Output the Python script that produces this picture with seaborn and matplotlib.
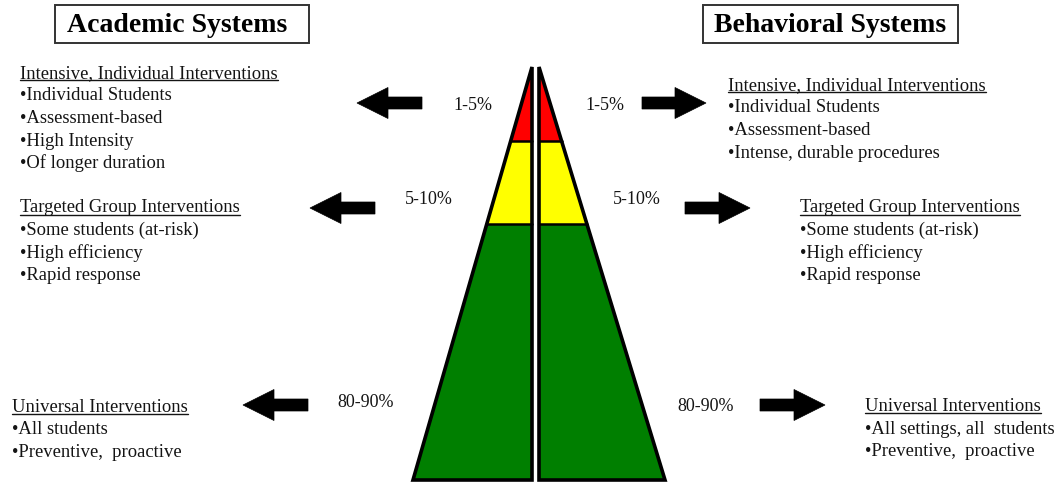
import matplotlib
matplotlib.use("Agg")
import matplotlib.pyplot as plt
import seaborn as sns
from matplotlib.patches import Polygon, Rectangle, FancyArrow

# --- content ---
panel_titles = ["Academic Systems", "Behavioral Systems"]
tier_shares = ["1-5%", "5-10%", "80-90%"]
tier_colors = ["#FF0000", "#FFFF00", "#007F00"]
# where each band ends, as a fraction of the pyramid height from the apex
band_ends = [0.18, 0.38, 1.0]

academic_heads = ["Intensive, Individual Interventions",
                  "Targeted Group Interventions",
                  "Universal Interventions"]
academic_items = [["Individual Students", "Assessment-based", "High Intensity", "Of longer duration"],
                  ["Some students (at-risk)", "High efficiency", "Rapid response"],
                  ["All students", "Preventive,  proactive"]]
behavior_heads = ["Intensive, Individual Interventions",
                  "Targeted Group Interventions",
                  "Universal Interventions"]
behavior_items = [["Individual Students", "Assessment-based", "Intense, durable procedures"],
                  ["Some students (at-risk)", "High efficiency", "Rapid response"],
                  ["All settings, all  students", "Preventive,  proactive"]]

sns.set_theme(style="white")
plt.rcParams['font.family'] = ['Liberation Serif', 'DejaVu Serif']
ink = "#141414"

fig = plt.figure(figsize=(10.58, 4.84), dpi=100)
ax = fig.add_axes([0, 0, 1, 1])
ax.set_xlim(0, 1058)
ax.set_ylim(484, 0)
ax.axis("off")

# --- pyramid (two halves split by a white gap) ---
apex_y, base_y = 67, 480
H = base_y - apex_y
lx_in, lx_base = 532, 413
rx_in, rx_base = 539, 665


def left_x(y):
    return lx_in - (y - apex_y) / H * (lx_in - lx_base)


def right_x(y):
    return rx_in + (y - apex_y) / H * (rx_base - rx_in)


starts = [0.0] + band_ends[:-1]
for f0, f1, col in zip(starts, band_ends, tier_colors):
    y0, y1 = apex_y + f0 * H, apex_y + f1 * H
    ax.add_patch(Polygon([(left_x(y0), y0), (lx_in, y0), (lx_in, y1), (left_x(y1), y1)],
                         closed=True, fc=col, ec="none"))
    ax.add_patch(Polygon([(rx_in, y0), (right_x(y0), y0), (right_x(y1), y1), (rx_in, y1)],
                         closed=True, fc=col, ec="none"))
    if f1 < 1.0:
        ax.plot([left_x(y1), lx_in], [y1, y1], color="black", lw=1.8)
        ax.plot([rx_in, right_x(y1)], [y1, y1], color="black", lw=1.8)

ax.add_patch(Polygon([(lx_in, apex_y), (lx_in, base_y), (lx_base, base_y)],
                     closed=True, fc="none", ec="black", lw=2.6, joinstyle="miter"))
ax.add_patch(Polygon([(rx_in, apex_y), (rx_in, base_y), (rx_base, base_y)],
                     closed=True, fc="none", ec="black", lw=2.6, joinstyle="miter"))

# --- title boxes ---
for (x0, x1), dx, title in zip([(55, 309), (703, 958)], [-5, 0], panel_titles):
    ax.add_patch(Rectangle((x0, 5), x1 - x0, 38, fc="white", ec="#333333", lw=1.4))
    ax.text((x0 + x1) / 2 + dx, 32, title, ha="center", va="baseline",
            fontsize=20, fontweight="bold", color="black")

# --- percentage labels ---
share_pos = [((453, 110), (585, 110)), ((405, 204), (613, 204)), ((337, 407), (677, 411))]
for share, (lp, rp) in zip(tier_shares, share_pos):
    ax.text(lp[0], lp[1], share, ha="left", va="baseline", fontsize=13, color=ink)
    ax.text(rp[0], rp[1], share, ha="left", va="baseline", fontsize=13, color=ink)

# --- block arrows ---
arrow_spans = [((422, 357), (642, 706), 103), ((375, 310), (685, 750), 208), ((308, 243), (760, 825), 405)]
for (lt, lh), (rt, rh), y in arrow_spans:
    for tail, tip in [(lt, lh), (rt, rh)]:
        ax.add_patch(FancyArrow(tail, y, tip - tail, 0, width=12, head_width=31, head_length=31,
                                length_includes_head=True, fc="black", ec="black", lw=0.5))

# --- text blocks ---
left_pos = [(20, 78), (20, 212.5), (12, 412)]
right_pos = [(728, 90), (800, 212.5), (865, 411)]
step = 22.5


def draw_block(x, y, head, items):
    t = ax.text(x, y, head, ha="left", va="baseline", fontsize=13.4, color=ink)
    fig.canvas.draw()
    bb = t.get_window_extent().transformed(ax.transData.inverted())
    ax.plot([bb.x0, bb.x1], [y + 2.2, y + 2.2], color=ink, lw=1.0)
    for i, item in enumerate(items):
        ax.text(x, y + step * (i + 1), "\u2022" + item, ha="left", va="baseline",
                fontsize=13.4, color=ink)


for (x, y), head, items in zip(left_pos, academic_heads, academic_items):
    draw_block(x, y, head, items)
for (x, y), head, items in zip(right_pos, behavior_heads, behavior_items):
    draw_block(x, y, head, items)

fig.savefig("out.png", dpi=100, facecolor="white")
